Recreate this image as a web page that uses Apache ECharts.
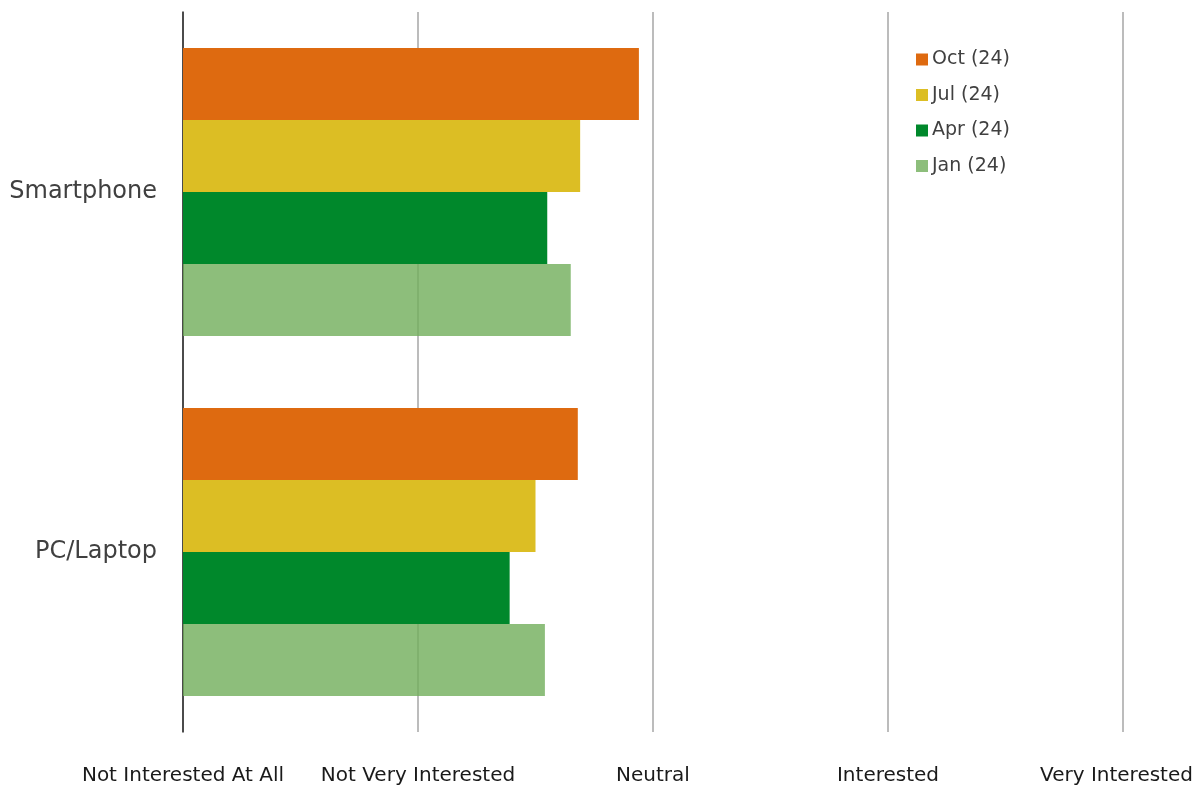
<!DOCTYPE html>
<html>
<head>
<meta charset="utf-8">
<script src="https://cdn.jsdelivr.net/npm/echarts@6/dist/echarts.min.js"></script>
<style>
html,body{margin:0;padding:0;background:#fff;}
#c{width:1196px;height:786px;}
</style>
</head>
<body>
<div id="c"></div>
<script>
const categories = ['PC/Laptop', 'Smartphone'];
const scaleLabels = ['Not Interested At All', 'Not Very Interested', 'Neutral', 'Interested', 'Very Interested'];
const seriesNames = ['Oct (24)', 'Jul (24)', 'Apr (24)', 'Jan (24)'];
const oct24 = [2.68, 2.94];
const jul24 = [2.50, 2.69];
const apr24 = [2.39, 2.55];
const jan24 = [2.54, 2.65];

const colors = {
  'Jan (24)': 'rgba(112,174,90,0.8)',
  'Apr (24)': '#00882B',
  'Jul (24)': '#DCBE24',
  'Oct (24)': '#DE6A10'
};
const values = [oct24, jul24, apr24, jan24];
const FONT = 'DejaVu Sans, sans-serif';

const chart = echarts.init(document.getElementById('c'));
chart.setOption({
  animation: false,
  backgroundColor: '#fff',
  textStyle: { fontFamily: FONT },
  legend: {
    data: seriesNames,
    orient: 'vertical',
    left: 911,
    top: 45,
    itemWidth: 12,
    itemHeight: 12,
    itemGap: 16.5,
    icon: 'rect',
    textStyle: { fontSize: 19, color: '#404040', fontFamily: FONT, padding: [0,0,0,-1] }
  },
  grid: { left: 183, right: 73, top: 12, bottom: 54, containLabel: false, outerBoundsMode: 'none' },
  xAxis: {
    type: 'value',
    min: 1, max: 5, interval: 1,
    axisLine: { show: false },
    axisTick: { show: false },
    splitLine: { show: true, lineStyle: { color: '#A6A6A6', width: 1.5 } },
    axisLabel: {
      margin: 34,
      fontSize: 20,
      color: '#1a1a1a',
      fontFamily: FONT,
      formatter: v => {
        const i = Math.round(v) - 1;
        const t = scaleLabels[i] || '';
        return i === scaleLabels.length - 1 ? '{last|' + t + '}' : t;
      },
      rich: {
        last: { fontSize: 20, color: '#1a1a1a', fontFamily: FONT, padding: [0, 13, 0, 0] }
      }
    }
  },
  yAxis: {
    type: 'category',
    data: categories,
    axisLine: { show: true, lineStyle: { color: '#262626', width: 1.5 } },
    axisTick: { show: false },
    axisLabel: { fontSize: 24, color: '#404040', margin: 26, fontFamily: FONT }
  },
  series: seriesNames.map((n, i) => ({
    name: n,
    type: 'bar',
    data: values[i],
    barGap: '0%',
    barCategoryGap: '20%',
    itemStyle: { color: colors[n] }
  }))
});
</script>
</body>
</html>
